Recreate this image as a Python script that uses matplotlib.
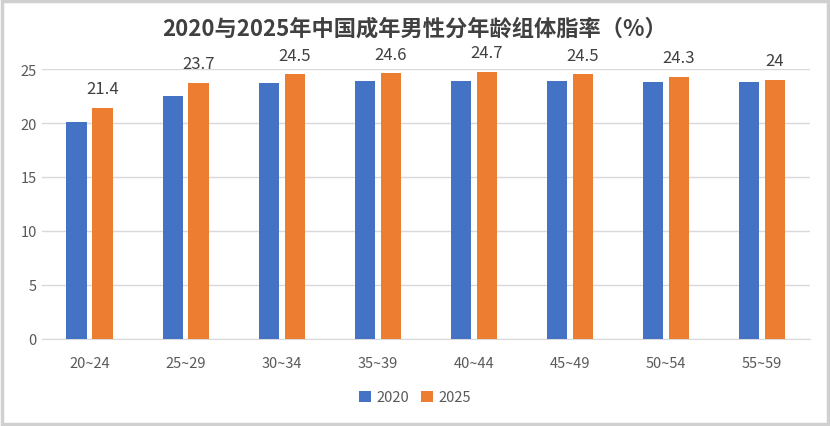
import matplotlib.pyplot as plt
import numpy as np
from matplotlib.patches import Rectangle

plt.rcParams['font.family'] = ['Noto Sans CJK SC', 'DejaVu Sans']

age_groups = ["20~24", "25~29", "30~34", "35~39", "40~44", "45~49", "50~54", "55~59"]
fat_2020 = [20.1, 22.5, 23.7, 23.9, 23.9, 23.9, 23.8, 23.8]
fat_2025 = [21.4, 23.7, 24.5, 24.6, 24.7, 24.5, 24.3, 24.0]
series_labels = ["2020", "2025"]

BLUE = "#4472C4"
ORANGE = "#ED7D31"
GRAY = "#595959"

fig = plt.figure(figsize=(8.3, 4.27), dpi=100)
ax = fig.add_axes([0.05, 0.204, 0.926, 0.632])

x = np.arange(len(age_groups))
w = 0.21
ax.bar(x - 0.135, fat_2020, w, color=BLUE, label=series_labels[0], zorder=3)
bars = ax.bar(x + 0.135, fat_2025, w, color=ORANGE, label=series_labels[1], zorder=3)
for rect, v in zip(bars, fat_2025):
    ax.text(rect.get_x() + rect.get_width() / 2, v + 1.0, f"{v:g}",
            ha="center", va="bottom", fontsize=12, color="#404040")

ax.set_ylim(0, 25)
ax.set_xlim(-0.5, len(age_groups) - 0.5)
ax.set_yticks(range(0, 26, 5))
ax.set_xticks(x)
ax.set_xticklabels(age_groups)
ax.yaxis.grid(True, color="#d9d9d9", linewidth=1, zorder=0)
ax.tick_params(axis="both", length=0, colors=GRAY, labelsize=10.5)
ax.tick_params(axis="x", pad=12)
for s in ["top", "right", "left"]:
    ax.spines[s].set_visible(False)
ax.spines["bottom"].set_color("#d9d9d9")

fig.suptitle("2020与2025年中国成年男性分年龄组体脂率（%）", y=0.96,
             fontsize=16, fontweight="bold", color="#404040")

fig.legend(loc="lower center", bbox_to_anchor=(0.5, 0.02), ncol=2, frameon=False,
           fontsize=10.5, handlelength=0.8, handleheight=0.8, columnspacing=0.8,
           handletextpad=0.4, labelcolor=GRAY)

fig.patches.append(Rectangle((0.002, 0.004), 0.996, 0.992, transform=fig.transFigure,
                             fill=False, edgecolor="#d0d0d0", linewidth=2.5))

fig.savefig("out.png", dpi=100)
